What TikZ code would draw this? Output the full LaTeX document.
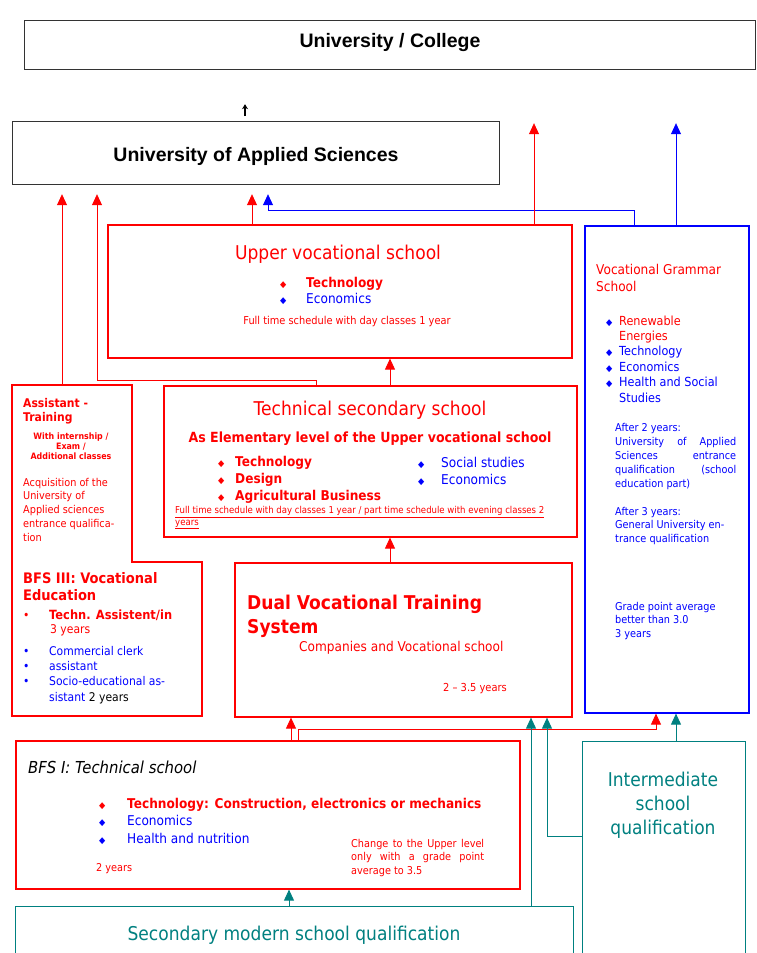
\documentclass[tikz,border=0pt]{standalone}
\usepackage{fontspec}
\setmainfont{DejaVu Sans}[FakeStretch=0.9]
\newfontfamily\arialfont{Liberation Sans}
\usetikzlibrary{arrows.meta}
\definecolor{qteal}{RGB}{0,128,128}
\newcommand{\fs}[2]{\fontsize{#1}{#2}\selectfont}
\newcommand{\bul}[1][26pt]{\makebox[#1][l]{\fs{9}{9}◆}}
\newcommand{\listdot}{\makebox[26pt][l]{•}}
\newcommand{\spread}[2]{\makebox[#1][s]{#2}}

\begin{document}
\begin{tikzpicture}[x=1pt,y=-1pt]
		\tikzstyle{greybox}=[draw=black!80,line width=1.2pt,inner sep=0pt,anchor=north west]
		\tikzstyle{redbox}=[draw=red,line width=1.6pt,inner sep=0pt,anchor=north west]
		\tikzstyle{bluebox}=[draw=blue,line width=1.6pt,inner sep=0pt,anchor=north west]
		\tikzstyle{tealbox}=[draw=qteal,line width=1pt,inner sep=0pt,anchor=north west]
		\tikzstyle{area}=[inner sep=0pt,outer sep=0pt,anchor=north west]
		\tikzstyle{txt}=[inner sep=0pt,anchor=base west,align=left]
		\tikzstyle{redarr}=[red,line width=0.8pt,-{Triangle[width=10pt,length=11pt]}]
		\tikzstyle{bluearr}=[blue,line width=0.8pt,-{Triangle[width=10pt,length=11pt]}]
		\tikzstyle{tealarr}=[qteal,line width=0.9pt,-{Triangle[width=10pt,length=11pt]}]
		\tikzstyle{blackarr}=[black,line width=1.2pt,-{Stealth[width=6pt,length=5pt]}]
		
		\useasboundingbox (0,0) rectangle (756,953);
		
		% boxes
		\node[greybox,minimum width=731pt,minimum height=49pt](ucol) at (24,20){};
		\node[greybox,minimum width=487pt,minimum height=63pt](uas) at (12,121){};
		\node[redbox,minimum width=464pt,minimum height=133pt](uvs) at (107,224){};
		\node[bluebox,minimum width=164pt,minimum height=487pt](vgs) at (584,225){};
		\node[redbox,minimum width=413pt,minimum height=151pt](tss) at (163,385){};
		\node[area,minimum width=120pt,minimum height=177pt](assist) at (12,385){};
		\node[area,minimum width=190pt,minimum height=154pt](bfs3) at (12,562){};
		\node[redbox,minimum width=337pt,minimum height=154pt](dual) at (234,562){};
		\node[redbox,minimum width=504pt,minimum height=148pt](bfs1) at (15,740){};
		\node[tealbox,minimum width=558pt,minimum height=60pt](secq) at (15,906){};
		\node[tealbox,minimum width=163pt,minimum height=230pt](interq) at (582,741){};
		\draw[red,line width=1.6pt] (assist.north west) -| (assist.south east) -| (bfs3.south east) -| (bfs3.north west) -- cycle;
		
		% texts (multi-line nodes sit on the baseline of their last line)
		\node[txt,anchor=base,font=\arialfont\fs{19.5}{23}\bfseries](ucoltext) at (390,47){University / College};
		\node[txt,anchor=base,font=\arialfont\fs{19.5}{23}\bfseries](uastext) at (256,161){University of Applied Sciences};
		
		\node[txt,anchor=base,font=\fs{19}{24},red](uvstitle) at (338,259){Upper vocational school};
		\node[txt,font=\fs{13.5}{16}](uvslist) at (280,303){\textcolor{red}{\bul\textbf{Technology}}\\\textcolor{blue}{\bul Economics}};
		\node[txt,anchor=base,font=\fs{10.9}{13},red](uvsnote) at (347,324){Full time schedule with day classes 1 year};
		
		\node[txt,anchor=base,font=\fs{19}{24},red](tsstitle) at (370,415){Technical secondary school};
		\node[txt,anchor=base,font=\fs{14}{17}\bfseries,red](tsssub) at (370,442){As Elementary level of the Upper vocational school};
		\node[txt,font=\fs{13.5}{17}\bfseries,red](tsslist) at (218,500){\bul[17pt]Technology\\\bul[17pt]Design\\\bul[17pt]Agricultural Business};
		\node[txt,font=\fs{13.5}{17},blue](tssright) at (418,484){\bul[23pt]Social studies\\\bul[23pt]Economics};
		\node[txt,font=\fs{9.5}{11.5},red](tssnote) at (175,525){\underline{Full time schedule with day classes 1 year / part time schedule with evening classes 2}\\\underline{years}};
		
		\node[txt,font=\fs{12}{14}\bfseries,red](asttitle) at (23,421){Assistant -\\Training};
		\node[txt,anchor=base,align=center,font=\fs{8.8}{10}\bfseries,red](astnote) at (71,459){With internship /\\Exam /\\Additional classes};
		\node[txt,font=\fs{10.8}{13.7},red](astqual) at (23,541){Acquisition of the\\University of\\Applied sciences\\entrance qualifica-\\tion};
		
		\node[txt,font=\fs{14.5}{17}\bfseries,red](bfs3title) at (23,600){BFS III: Vocational\\Education};
		\node[txt,font=\fs{12}{14},red](bfs3a) at (23,633.5){\listdot\textbf{\fs{12.7}{14}Techn. Assistent/in}\\\hspace*{27pt}3 years};
		\node[txt,font=\fs{12}{15.3},blue](bfs3b) at (23,701){\listdot Commercial clerk\\\listdot assistant\\\listdot Socio-educational as-\\\hspace*{26pt}sistant \textcolor{black}{2 years}};
		
		\node[txt,font=\fs{19}{24}\bfseries,red](dualtitle) at (247,633){Dual Vocational Training\\System};
		\node[txt,font=\fs{13.5}{16},red](dualsub) at (299,651){Companies and Vocational school};
		\node[txt,font=\fs{11}{13},red](dualyrs) at (443,691){2 – 3.5 years};
		
		\node[txt,font=\fs{13.5}{17},red](vgstitle) at (596,291){Vocational Grammar\\School};
		\node[txt,font=\fs{12.5}{15.4},blue](vgslist) at (606,402){\bul[13pt]\textcolor{red}{Renewable}\\\hspace*{13pt}\textcolor{red}{Energies}\\\bul[13pt]Technology\\\bul[13pt]Economics\\\bul[13pt]Health and Social\\\hspace*{13pt}Studies};
		\node[txt,font=\fs{10.8}{14},blue](vgsafter2) at (615,487){After 2 years:\\\spread{121pt}{University of Applied}\\\spread{121pt}{Sciences entrance}\\\spread{121pt}{qualification (school}\\education part)};
		\node[txt,font=\fs{10.8}{13.5},blue](vgsafter3) at (615,542){After 3 years:\\General University en-\\trance qualification};
		\node[txt,font=\fs{10.8}{13.5},blue](vgsgrade) at (615,637){Grade point average\\better than 3.0\\3 years};
		
		\node[txt,font=\fs{16.5}{20}\itshape](bfs1title) at (28,773){BFS I: Technical school};
		\node[txt,font=\fs{13.5}{17.5}](bfs1list) at (99,843){\textcolor{red}{\bul[28pt]\textbf{Technology: Construction, electronics or mechanics}}\\\textcolor{blue}{\bul[28pt]Economics}\\\textcolor{blue}{\bul[28pt]Health and nutrition}};
		\node[txt,font=\fs{10.8}{13},red](bfs1yrs) at (96,871){2 years};
		\node[txt,font=\fs{10.8}{13.5},red](bfs1note) at (351,874){\spread{133pt}{Change to the Upper level}\\\spread{133pt}{only with a grade point}\\average to 3.5};
		
		\node[txt,anchor=base,font=\fs{19}{24},qteal](secqtext) at (294,940){Secondary modern school qualification};
		\node[txt,anchor=base,align=center,font=\fs{19}{24},qteal](interqtext) at (663,834){Intermediate\\school\\qualification};
		
		% arrows
		\draw[blackarr,shorten <=5pt,shorten >=34pt] (uas.north -| 245,0) -- (ucol.south -| 245,0);
		\draw[redarr,shorten >=9pt] (assist.north -| 62,0) -- (uas.south -| 62,0);
		\draw[redarr,shorten >=9pt] (tss.north -| 316,0) -- ++(0,-5) -| (uas.south -| 97,0);
		\draw[redarr,shorten >=9pt] (uvs.north -| 252,0) -- (uas.south -| 252,0);
		\draw[bluearr,shorten >=9pt] (vgs.north -| 634,0) -- ++(0,-15) -| (uas.south -| 268,0);
		\draw[redarr,shorten >=53pt] (uvs.north -| 534,0) -- (ucol.south -| 534,0);
		\draw[bluearr,shorten >=53pt] (vgs.north -| 676,0) -- (ucol.south -| 676,0);
		\draw[redarr] (tss.north -| 390,0) -- (uvs.south -| 390,0);
		\draw[redarr] (dual.north -| 390,0) -- (tss.south -| 390,0);
		\draw[redarr] (bfs1.north -| 291,0) -- (dual.south -| 291,0);
		\draw[redarr] (bfs1.north -| 298,0) -- ++(0,-11) -| (vgs.south -| 656,0);
		\draw[tealarr] (secq.north -| 531,0) -- (dual.south -| 531,0);
		\draw[tealarr] (interq.west |- 0,836) -| (dual.south -| 547,0);
		\draw[tealarr] (interq.north -| 676,0) -- (vgs.south -| 676,0);
		\draw[tealarr] (secq.north -| 289,0) -- (bfs1.south -| 289,0);
\end{tikzpicture}
\end{document}
